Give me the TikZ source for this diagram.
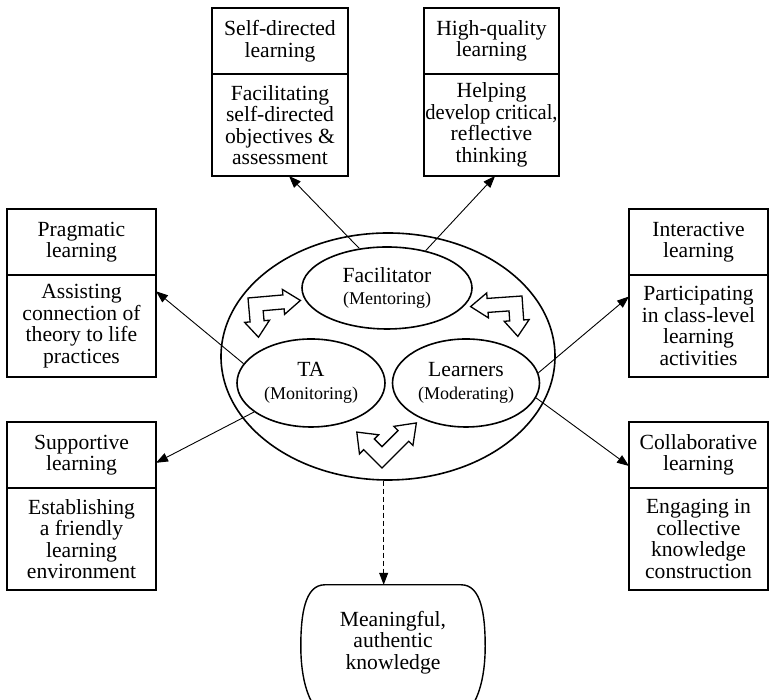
\documentclass[tikz,border=0pt]{standalone}
\usepackage{fontspec}
\usepackage{graphicx}
\setmainfont{Liberation Serif}
\usetikzlibrary{positioning,shapes.geometric,arrows.meta}
\newcommand{\boxfont}{\fontsize{21.6}{21.5}\selectfont}
\newcommand{\rolefont}{\fontsize{18}{22}\selectfont}
\tikzset{
  twoway/.pic={
    \draw[line width=1.3pt,fill=white] (0,0) -- (35,0) -- (35,5.5) -- (52,-7) -- (35,-19.5) -- (35,-14) -- (14,-14) -- (14,-24) -- (19.5,-24) -- (7,-40) -- (-5.5,-24) -- (0,-24) -- cycle;
  }
}
\begin{document}
\begin{tikzpicture}[x=1pt,y=1pt,
  head/.style={draw,line width=1.4pt,align=center,inner sep=1pt,outer sep=0pt,minimum height=66pt,font=\boxfont},
  body/.style={head,minimum height=102pt},
  role/.style={ellipse,draw,line width=1.6pt,align=center,inner sep=0pt,font=\boxfont},
  link/.style={line width=0.9pt,-{Triangle[length=12pt,width=9pt]}}]
\useasboundingbox (0,0) rectangle (769,700);

\node[head,minimum width=136pt,anchor=north west] (selfT) at (212,692) {Self-directed\\learning};
\node[body,minimum width=136pt,below=0pt of selfT] (selfB) {Facilitating\\self-directed\\objectives \&\\assessment};
\node[head,minimum width=135pt,anchor=north west] (highT) at (424,692) {High-quality\\learning};
\node[body,minimum width=135pt,below=0pt of highT] (highB) {Helping\\\scalebox{0.95}[1]{develop critical,}\\reflective\\thinking};

\node[head,minimum width=149pt,anchor=north west] (pragT) at (7,491) {Pragmatic\\learning};
\node[body,minimum width=149pt,below=0pt of pragT] (pragB) {Assisting\\connection of\\theory to life\\practices};
\node[head,minimum width=149pt,anchor=north west] (suppT) at (7,278) {Supportive\\learning};
\node[body,minimum width=149pt,below=0pt of suppT] (suppB) {Establishing\\a friendly\\learning\\environment};

\node[head,minimum width=139pt,anchor=north west] (interT) at (629,491) {Interactive\\learning};
\node[body,minimum width=139pt,below=0pt of interT] (interB) {Participating\\in class-level\\learning\\activities};
\node[head,minimum width=139pt,anchor=north west] (collT) at (629,278) {Collaborative\\learning};
\node[body,minimum width=139pt,below=0pt of collT] (collB) {Engaging in\\collective\\knowledge\\construction};

\node[role,minimum width=334pt,minimum height=247pt] (ring) at (388,343.5) {};
\node[role,minimum width=170pt,minimum height=82pt] (fac) at (387,412) {Facilitator\\[1pt]{\rolefont(Mentoring)}};
\node[role,minimum width=148pt,minimum height=88pt] (ta) at (311,317) {TA\\[1pt]{\rolefont(Monitoring)}};
\node[role,minimum width=147pt,minimum height=88pt] (lrn) at (466,317) {Learners\\[1pt]{\rolefont(Moderating)}};

\pic[rotate=5] at (248,402) {twoway};
\pic[xscale=-1,rotate=-4] at (522,404) {twoway};
\pic[rotate=45,yscale=-1,scale=1.08] at (382,232) {twoway};

\node[align=center,inner sep=0pt,minimum width=184pt,minimum height=115pt,font=\boxfont] (know) at (393,57.5) {Meaningful,\\authentic\\knowledge};
\draw[line width=1.4pt] ([xshift=24pt]know.north west) -- ([xshift=-24pt]know.north east)
  .. controls ([xshift=-4pt]know.north east) and ([yshift=28pt]know.east) .. ([yshift=-4pt]know.east)
  .. controls ([yshift=-32pt]know.east) and ([xshift=-6pt,yshift=-14pt]know.south east) .. ([xshift=-34pt,yshift=-22pt]know.south east)
  -- ([xshift=34pt,yshift=-22pt]know.south west)
  .. controls ([xshift=6pt,yshift=-14pt]know.south west) and ([yshift=-32pt]know.west) .. ([yshift=-4pt]know.west)
  .. controls ([yshift=28pt]know.west) and ([xshift=4pt]know.north west) .. cycle;

\draw[link] (fac.125) -- (selfB.-80);
\draw[link] (fac.44) -- (highB.-86);
\draw[link] (ta.164) -- (pragB.25);
\draw[link] (ta.207) -- (suppT.-6);
\draw[link] (lrn.8) -- (interB.157);
\draw[link] (lrn.-12) -- (collT.189);
\draw[link,dash pattern=on 5pt off 3pt] (ring.-92) -- (ring.-92 |- know.north);
\end{tikzpicture}
\end{document}
